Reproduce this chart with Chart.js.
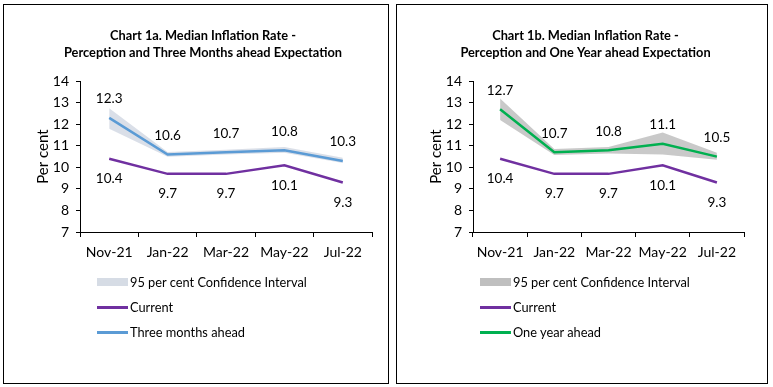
<!DOCTYPE html>
<html>
<head>
<meta charset="utf-8">
<script src="https://cdn.jsdelivr.net/npm/chart.js@4"></script>
<style>
    body { margin: 0; background: #fff; font-family: Lato, "Open Sans", sans-serif; }
    .panel { position: absolute; top: 4px; height: 378px; border: 1px solid #000; background: #fff; }
    .panel canvas { position: absolute; left: 0; top: 0; }
    .legend { position: absolute; font-size: 12.8px; color: #000; }
    .legend div { position: relative; height: 25px; line-height: 16px; }
    .legend span.swatch { position: absolute; left: 0; display: inline-block; width: 31px; }
    .legend span.text { position: absolute; left: 33px; top: 0; white-space: nowrap; }
</style>
</head>
<body>

<div class="panel" id="panelA" style="left:3px;width:384px;">
    <canvas id="chartA" width="384" height="378"></canvas>
    <div class="legend" id="legendA" style="left:93px;top:269px;"></div>
</div>

<div class="panel" id="panelB" style="left:396px;width:370px;">
    <canvas id="chartB" width="370" height="378"></canvas>
    <div class="legend" id="legendB" style="left:83px;top:269px;"></div>
</div>

<script>
const months = ['Nov-21', 'Jan-22', 'Mar-22', 'May-22', 'Jul-22'];

const current = [10.4, 9.7, 9.7, 10.1, 9.3];

const threeMonthsAhead = [12.3, 10.6, 10.7, 10.8, 10.3];
const threeMonthsUpper = [12.75, 10.72, 10.82, 10.95, 10.45];
const threeMonthsLower = [11.8, 10.5, 10.6, 10.68, 10.2];

const oneYearAhead = [12.7, 10.7, 10.8, 11.1, 10.5];
const oneYearUpper = [13.2, 10.85, 10.95, 11.62, 10.68];
const oneYearLower = [12.2, 10.58, 10.65, 10.6, 10.35];

const yTicks = [7, 8, 9, 10, 11, 12, 13, 14];

const purple = '#7030A0';
const blue = '#5B9BD5';
const green = '#00B050';

//Draws the value next to each point of the datasets that ask for it.
const pointLabels = {
    id: 'pointLabels',
    afterDatasetsDraw(chart) {
        const ctx = chart.ctx;
        ctx.save();
        ctx.font = '13.5px Lato, "Open Sans", sans-serif';
        ctx.fillStyle = '#000';
        ctx.textAlign = 'center';
        ctx.textBaseline = 'middle';
        chart.data.datasets.forEach(function (ds, i) {
            if (!ds.valueLabel) return;
            const meta = chart.getDatasetMeta(i);
            meta.data.forEach(function (pt, j) {
                const dy = ds.valueLabel === 'above' ? -19 : 20;
                ctx.fillText(ds.data[j].toFixed(1), pt.x, pt.y + dy);
            });
        });
        ctx.restore();
    }
};

function buildLegend(id, bandColor, aheadLabel, aheadColor) {
    const el = document.getElementById(id);
    const items = [
        { text: '95 per cent Confidence Interval', band: true, color: bandColor },
        { text: 'Current', color: purple },
        { text: aheadLabel, color: aheadColor }
    ];
    items.forEach(function (item) {
        const row = document.createElement('div');
        const sw = document.createElement('span');
        sw.className = 'swatch';
        if (item.band) {
            sw.style.top = '4px';
            sw.style.height = '8px';
        } else {
            sw.style.top = '7px';
            sw.style.height = '3px';
        }
        sw.style.background = item.color;
        const tx = document.createElement('span');
        tx.className = 'text';
        tx.textContent = item.text;
        row.appendChild(sw);
        row.appendChild(tx);
        el.appendChild(row);
    });
}

function makeChart(canvasId, titleLines, ahead, upper, lower, aheadLabel, aheadColor, bandColor, rightPad) {
    const control = document.getElementById(canvasId);

    return new Chart(control, {
        type: 'line',
        data: {
            labels: months,
            datasets: [
                {
                    label: 'upper',
                    data: upper,
                    borderWidth: 0,
                    pointRadius: 0,
                    backgroundColor: bandColor,
                    fill: '+1',
                    tension: 0,
                    order: 10
                },
                {
                    label: 'lower',
                    data: lower,
                    borderWidth: 0,
                    pointRadius: 0,
                    fill: false,
                    tension: 0,
                    order: 11
                },
                {
                    label: 'Current',
                    data: current,
                    borderColor: purple,
                    borderWidth: 2.5,
                    pointRadius: 0,
                    fill: false,
                    tension: 0,
                    valueLabel: 'below',
                    order: 1
                },
                {
                    label: aheadLabel,
                    data: ahead,
                    borderColor: aheadColor,
                    borderWidth: 2.5,
                    pointRadius: 0,
                    fill: false,
                    tension: 0,
                    valueLabel: 'above',
                    order: 0
                }
            ]
        },
        options: {
            responsive: false,
            animation: false,
            layout: {
                padding: { left: 30, right: rightPad, top: 23, bottom: 117 }
            },
            scales: {
                x: {
                    offset: true,
                    grid: {
                        display: true,
                        drawOnChartArea: false,
                        offset: true,
                        tickLength: 5,
                        color: '#000'
                    },
                    border: { color: '#000', width: 1 },
                    ticks: {
                        color: '#000',
                        font: { family: 'Lato', size: 14 },
                        padding: 7,
                        maxRotation: 0
                    },
                    afterFit: function (scale) { scale.height = 34; }
                },
                y: {
                    min: 7,
                    max: 14,
                    afterBuildTicks: function (scale) {
                        scale.ticks = yTicks.map(function (v) { return { value: v }; });
                    },
                    grid: {
                        display: true,
                        drawOnChartArea: false,
                        tickLength: 4,
                        color: '#000'
                    },
                    border: { color: '#000', width: 1 },
                    ticks: {
                        color: '#000',
                        font: { family: 'Lato', size: 14 },
                        padding: 7
                    },
                    title: {
                        display: true,
                        text: 'Per cent',
                        color: '#000',
                        font: { family: 'Lato', size: 15 },
                        padding: { top: 0, bottom: 0 }
                    },
                    afterFit: function (scale) { scale.width = 46; }
                }
            },
            plugins: {
                legend: { display: false },
                tooltip: { enabled: false },
                title: {
                    display: true,
                    text: titleLines,
                    color: '#000',
                    font: { family: 'Lato', size: 12.8, weight: 'bold', lineHeight: 1.3 },
                    padding: { top: 0, bottom: 20 }
                }
            }
        },
        plugins: [pointLabels]
    });
}

makeChart('chartA',
    ['Chart 1a. Median Inflation Rate -', 'Perception and Three Months ahead Expectation'],
    threeMonthsAhead, threeMonthsUpper, threeMonthsLower,
    'Three months ahead', blue, 'rgba(214, 220, 229, 0.9)', 16);

makeChart('chartB',
    ['Chart 1b. Median Inflation Rate -', 'Perception and One Year ahead Expectation'],
    oneYearAhead, oneYearUpper, oneYearLower,
    'One year ahead', green, 'rgba(191, 191, 191, 0.85)', 23);

buildLegend('legendA', '#D6DCE5', 'Three months ahead', blue);
buildLegend('legendB', '#BFBFBF', 'One year ahead', green);
</script>
</body>
</html>
